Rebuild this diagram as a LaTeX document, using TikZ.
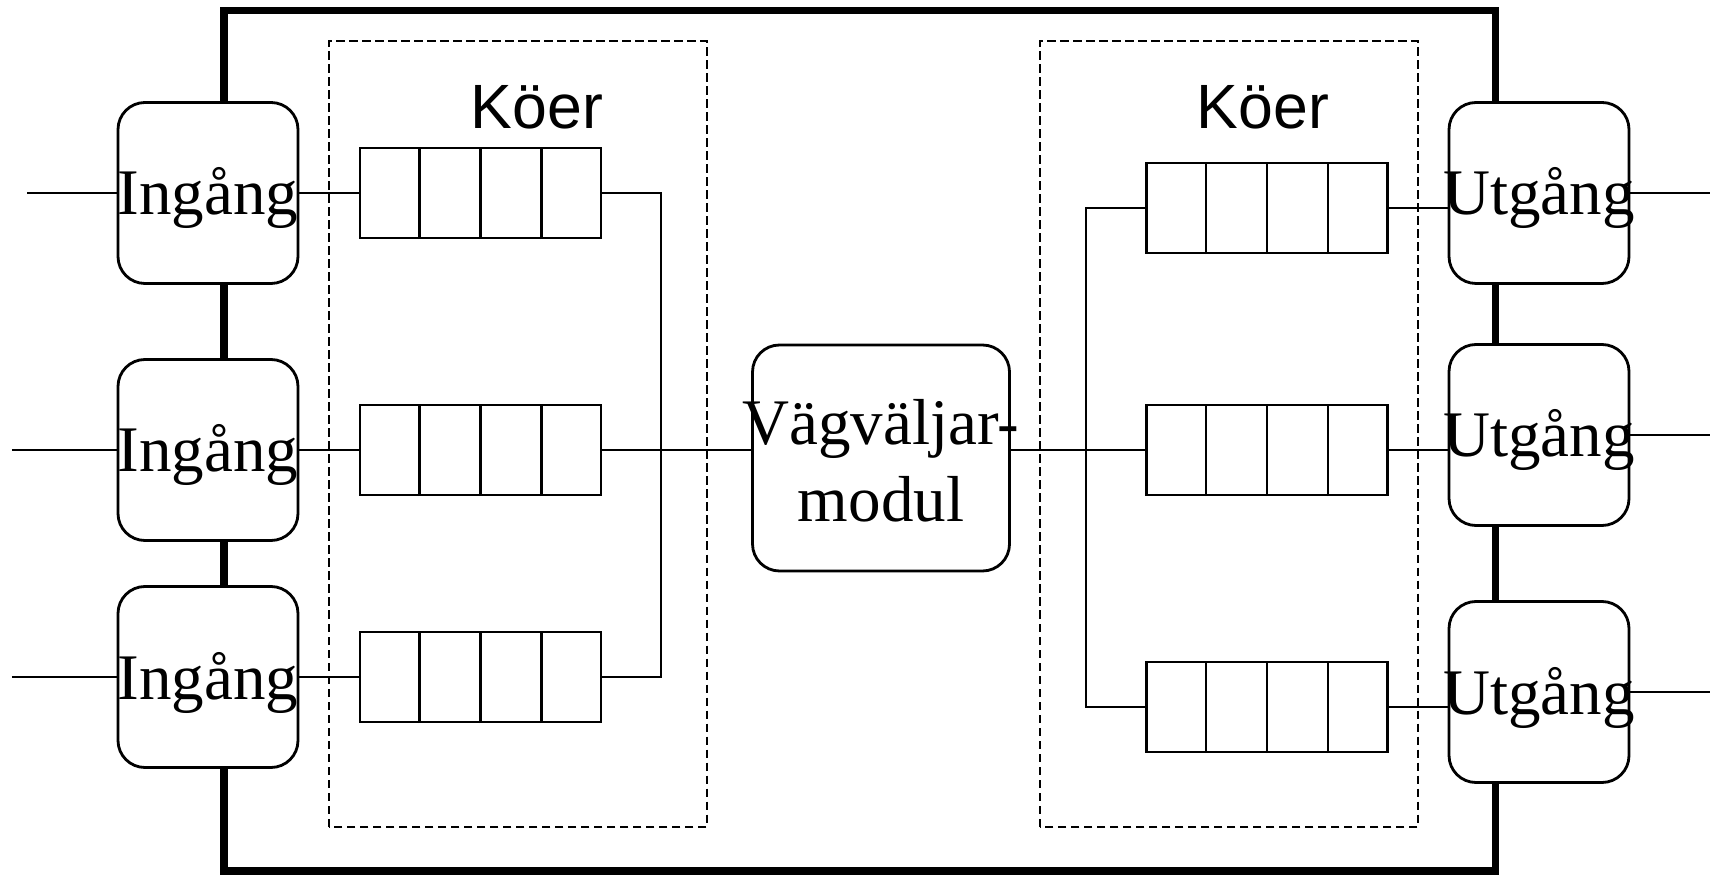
\documentclass[tikz,border=0pt]{standalone}
\usepackage{fontspec}
\setmainfont{Liberation Serif}
\newfontfamily\koerfont{Liberation Sans}
\usetikzlibrary{calc}

\begin{document}
\begin{tikzpicture}
\tikzset{port/.style={rectangle, rounded corners=0.27cm, draw=black, line width=0.8pt, fill=white, minimum width=1.8cm, minimum height=1.81cm, inner sep=0pt, text height=0.5cm, text depth=0.06cm, font=\fontsize{18.5}{21.8}\selectfont}}
\tikzset{router/.style={port, minimum width=2.57cm, minimum height=2.26cm, align=center, text height=1.27cm, text depth=0cm}}
\tikzset{queue/.style={rectangle, draw=black, line width=0.7pt, minimum width=2.41cm, minimum height=0.9cm, inner sep=0pt}}
\tikzset{wire/.style={line width=0.8pt}}
\tikzset{groupbox/.style={line width=0.5pt, dash pattern=on 2.4pt off 1.3pt}}
\tikzset{groupname/.style={anchor=base, font=\koerfont\fontsize{17.8}{20}\selectfont}}

\newcommand{\nowidth}[1]{\makebox[0pt]{#1}}
\newcommand{\drawqueue}[3]{
\node[queue] (#3) at (#1,#2) {};
\foreach \k in {1,2,3}
  \draw[line width=0.7pt] ($(#3.south west)!\k/4!(#3.south east)$) -- ($(#3.north west)!\k/4!(#3.north east)$);
}

\useasboundingbox (0,0) rectangle (17.1,8.75);

\draw[line width=2pt] (2.24,0.04) rectangle (14.95,8.64);
\draw[groupbox] (3.29,0.48) rectangle (7.07,8.34);
\draw[groupbox] (10.40,0.48) rectangle (14.18,8.34);

\node[groupname] (koerL) at (5.37,7.46) {Köer};
\node[groupname] (koerR) at (12.63,7.46) {Köer};

\node[port] (in1) at (2.08,6.82) {\nowidth{Ingång}};
\node[port] (in2) at (2.08,4.25) {\nowidth{Ingång}};
\node[port] (in3) at (2.08,1.98) {\nowidth{Ingång}};

\drawqueue{4.805}{6.82}{qL1}
\drawqueue{4.805}{4.25}{qL2}
\drawqueue{4.805}{1.98}{qL3}

\node[router] (vv) at (8.81,4.17) {\nowidth{Vägväljar-}\\\nowidth{modul}};

\drawqueue{12.67}{6.67}{qR1}
\drawqueue{12.67}{4.25}{qR2}
\drawqueue{12.67}{1.68}{qR3}

\node[port] (out1) at (15.39,6.82) {\nowidth{Utgång}};
\node[port] (out2) at (15.39,4.40) {\nowidth{Utgång}};
\node[port] (out3) at (15.39,1.83) {\nowidth{Utgång}};

\coordinate (src1) at (0.27,6.82);
\coordinate (src2) at (0.12,4.25);
\coordinate (src3) at (0.12,1.98);
\coordinate (busL1) at (6.61,6.82);
\coordinate (busL3) at (6.61,1.98);
\coordinate (busR1) at (10.86,6.67);
\coordinate (busR3) at (10.86,1.68);
\coordinate (rightend) at (17.1,0);

\foreach \i in {1,2,3} {
  \draw[wire] (src\i) -- (in\i);
  \draw[wire] (in\i) -- (qL\i);
  \draw[wire] (qR\i.east) -- (qR\i.east -| out\i.west);
  \draw[wire] (out\i.east) -- (out\i.east -| rightend);
}
\draw[wire] (qL1.east) -- (busL1) -- (busL3) -- (qL3.east);
\draw[wire] (qL2.east) -- (qL2.east -| vv.west);
\draw[wire] (vv.east |- qR2.west) -- (qR2.west);
\draw[wire] (qR1.west) -- (busR1) -- (busR3) -- (qR3.west);
\end{tikzpicture}
\end{document}
